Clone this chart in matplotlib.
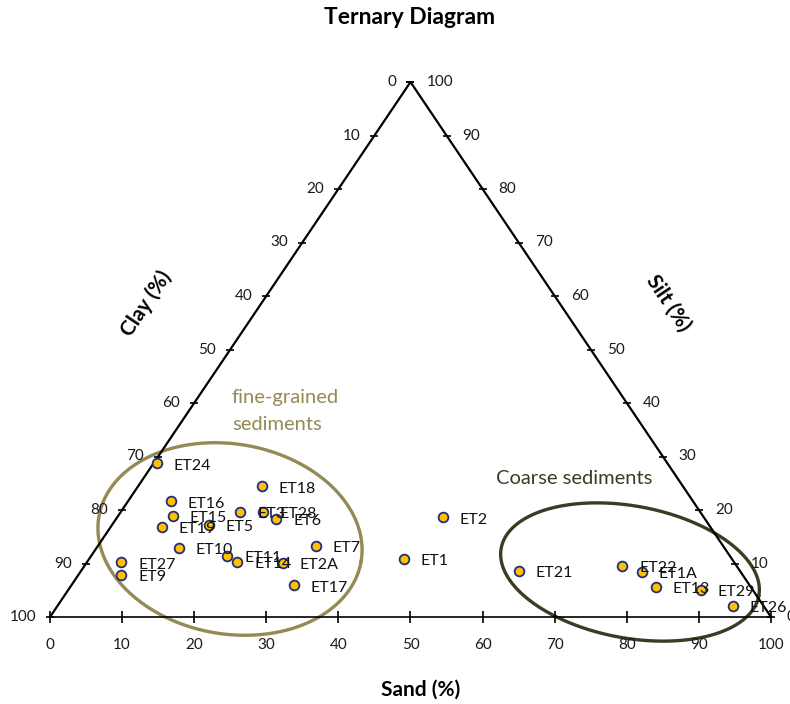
import numpy as np
import matplotlib
matplotlib.use("Agg")
import matplotlib.pyplot as plt

plt.rcParams['font.family'] = ['Lato', 'DejaVu Sans']

# ---- data ----
samples = ["ET24", "ET18", "ET16", "ET15", "ET3", "ET28", "ET6", "ET19", "ET5",
           "ET10", "ET11", "ET14", "ET2A", "ET7", "ET17", "ET27", "ET9",
           "ET2", "ET1", "ET21", "ET22", "ET1A", "ET13", "ET29", "ET26"]
# position along sand axis (x) and height level (read on silt scale)
sand_pos = [14.8, 29.4, 16.8, 17.1, 26.4, 29.5, 31.4, 15.5, 22.0,
            17.9, 24.6, 26.0, 32.3, 36.9, 33.8, 9.9, 9.9,
            54.5, 49.1, 65.0, 79.4, 82.1, 84.0, 90.3, 94.7]
silt_level = [28.7, 24.4, 21.6, 18.9, 19.6, 19.6, 18.3, 16.8, 17.2,
              12.9, 11.4, 10.3, 10.1, 13.3, 5.9, 10.2, 7.8,
              18.6, 10.9, 8.6, 9.5, 8.4, 5.7, 5.0, 2.1]
axis_ticks = [0, 10, 20, 30, 40, 50, 60, 70, 80, 90, 100]

# ---- figure ----
W, H = 790, 704
fig = plt.figure(figsize=(W / 100, H / 100), dpi=100)
ax = fig.add_axes([0, 0, 1, 1])
px_per_x = 7.21
px_per_y = 5.35
x0_px, y0_px = 50, 617
ax.set_xlim(-x0_px / px_per_x, (W - x0_px) / px_per_x)
ax.set_ylim(-(H - y0_px) / px_per_y, y0_px / px_per_y)
ax.axis('off')

# triangle
ax.plot([0, 50, 100], [0, 100, 0], color='black', lw=1.6, zorder=2)
ax.plot([0, 100], [0, 0], color='black', lw=1.2, zorder=2)

ticks = np.array(axis_ticks, dtype=float)
# bottom axis ticks
ax.plot(ticks, np.zeros_like(ticks), ls='none', marker='|', ms=9, mew=1.2,
        color='black', zorder=2)
for t in axis_ticks:
    ax.text(t, -5.2, str(t), ha='center', va='center', fontsize=11, color='#1a1a1a')

# left edge (clay): label c at level 100-c
for c in axis_ticks:
    h = 100 - c
    xe = h / 2
    ax.plot([xe], [h], marker='_', ms=6, mew=1.2, color='black', zorder=2)
    ax.text(xe - 14 / px_per_x, h, str(c), ha='right', va='center', fontsize=11,
            color='#1a1a1a')
# right edge (silt): label s at level s
for s in axis_ticks:
    xe = 100 - s / 2
    ax.plot([xe], [s], marker='_', ms=6, mew=1.2, color='black', zorder=2)
    ax.text(xe + 16 / px_per_x, s, str(s), ha='left', va='center', fontsize=11,
            color='#1a1a1a')

# ellipses (defined in pixel units, converted to data)
def draw_ellipse(cx, cy, a, b, theta_deg, color):
    t = np.linspace(0, 2 * np.pi, 300)
    th = np.deg2rad(theta_deg)
    ex = a * np.cos(t)
    ey = b * np.sin(t)
    rx = ex * np.cos(th) - ey * np.sin(th)
    ry = ex * np.sin(th) + ey * np.cos(th)
    X = (cx + rx - x0_px) / px_per_x
    Y = (y0_px - (cy + ry)) / px_per_y
    ax.plot(X, Y, color=color, lw=2.4, zorder=1, solid_capstyle='round')

draw_ellipse(230, 539, 133, 95, 9.7, '#948A54')
draw_ellipse(630, 572, 131, 66, 10.5, '#3E3A23')

# points
ax.plot(sand_pos, silt_level, ls='none', marker='o', ms=7, mfc='#FFC000',
        mec='#1F2F7A', mew=1.3, zorder=3)
for name, x, y in zip(samples, sand_pos, silt_level):
    ax.annotate(name, (x, y), xytext=(12, -1.5), textcoords='offset points',
                ha='left', va='center', fontsize=11.5, color='#111111', zorder=4)

# group labels
ax.text((232 - x0_px) / px_per_x, (y0_px - 398) / px_per_y, "fine-grained",
        ha='left', va='center', fontsize=14.5, color='#948A54')
ax.text((232 - x0_px) / px_per_x, (y0_px - 425) / px_per_y, "sediments",
        ha='left', va='center', fontsize=14.5, color='#948A54')
ax.text((496 - x0_px) / px_per_x, (y0_px - 478) / px_per_y,
        "Coarse sediments", ha='left', va='center', fontsize=14.5, color='#3E3A23')

# titles
fig.text(410 / W, 1 - 18 / H, "Ternary Diagram", ha='center', va='center',
         fontsize=16.5, fontweight='bold')
fig.text(421 / W, 1 - 690 / H, "Sand (%)", ha='center', va='center',
         fontsize=15, fontweight='bold')
fig.text(146 / W, 1 - 304 / H, "Clay (%)", ha='center', va='center',
         fontsize=15, fontweight='bold', rotation=56)
fig.text(668 / W, 1 - 303 / H, "Silt (%)", ha='center', va='center',
         fontsize=15, fontweight='bold', rotation=-56)

fig.savefig("out.png", dpi=100)
